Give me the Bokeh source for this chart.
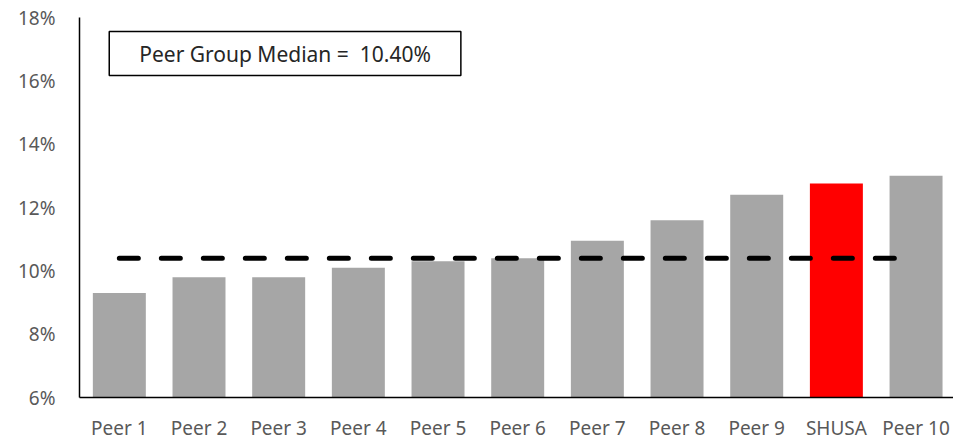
from bokeh.plotting import figure
from bokeh.models import Range1d, FixedTicker, PrintfTickFormatter, Label, ColumnDataSource
from bokeh.embed import file_html
from bokeh.resources import INLINE

categories = ["Peer 1", "Peer 2", "Peer 3", "Peer 4", "Peer 5", "Peer 6",
              "Peer 7", "Peer 8", "Peer 9", "SHUSA", "Peer 10"]
values = [9.30, 9.80, 9.80, 10.10, 10.30, 10.40, 10.95, 11.60, 12.40, 12.76, 13.00]
colors = ["#A6A6A6"] * 9 + ["#FF0000", "#A6A6A6"]
median = 10.40
y_ticks = [6, 8, 10, 12, 14, 16, 18]

FONT = "Noto Sans"
idx = list(range(len(categories)))

p = figure(width=953, height=443, output_backend="svg", toolbar_location=None,
           x_range=Range1d(-0.5, 10.47), y_range=Range1d(6, 18),
           min_border_left=79, min_border_right=0, min_border_top=17, min_border_bottom=0)
p.outline_line_color = None
p.xgrid.visible = False
p.ygrid.visible = False
p.background_fill_color = "white"

src = ColumnDataSource(dict(x=idx, top=values, color=colors))
p.vbar(x="x", top="top", bottom=6, width=0.665, fill_color="color", line_color=None, source=src)

p.line(x=[idx[0], idx[-1]], y=[median, median], line_color="black", line_width=5,
       line_dash="19 23", line_cap="round")

for ax in (p.xaxis[0], p.yaxis[0]):
    ax.axis_line_color = "black"
    ax.axis_line_width = 1.5
    ax.major_tick_in = 0
    ax.major_tick_out = 0
    ax.minor_tick_in = 0
    ax.minor_tick_out = 0
    ax.major_label_text_font = FONT
    ax.major_label_text_font_size = "19px"
    ax.major_label_text_color = "#595959"
    ax.major_label_standoff = 24

p.xaxis.major_label_standoff = 17

p.xaxis.ticker = FixedTicker(ticks=idx)
p.xaxis.major_label_overrides = {i: c for i, c in zip(idx, categories)}
p.yaxis.ticker = FixedTicker(ticks=y_ticks)
p.yaxis.formatter = PrintfTickFormatter(format="%d%%")

lab = Label(x=2.08, y=16.86, text=f"Peer Group Median =\u00a0\u00a0{median:.2f}%",
            text_font=FONT, text_font_size="21px", text_color="#262626",
            text_align="center", text_baseline="middle",
            border_line_color="black", border_line_width=1.5,
            background_fill_color="white",
            padding=dict(left=30, right=30, top=8, bottom=8))
p.add_layout(lab)

open("out.html", "w").write(file_html(p, INLINE))
